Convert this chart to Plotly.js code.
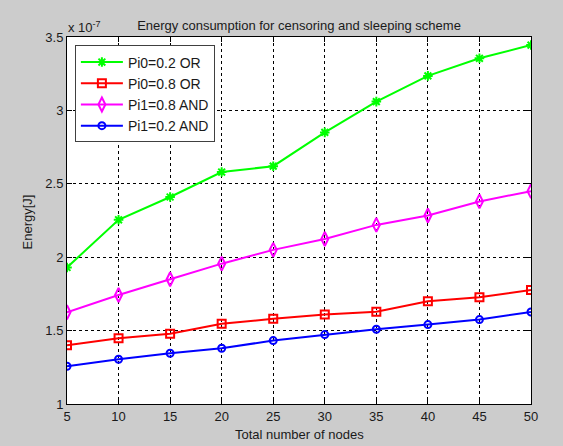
<!DOCTYPE html>
<html>
<head>
<meta charset="utf-8">
<script src="https://cdn.plot.ly/plotly-3.0.1.min.js"></script>
<style>html,body{margin:0;padding:0;background:#cccccc;}#chart{width:563px;height:446px;}</style>
</head>
<body>
<div id="chart"></div>
<script>
// Number of nodes
const nodes = [5, 10, 15, 20, 25, 30, 35, 40, 45, 50];
// Energy values in units of 1e-7 J
const pi0_02_or  = [1.93, 2.255, 2.41, 2.58, 2.62, 2.85, 3.06, 3.235, 3.355, 3.445];
const pi0_08_or  = [1.40, 1.448, 1.478, 1.546, 1.58, 1.609, 1.629, 1.70, 1.727, 1.777];
const pi1_08_and = [1.625, 1.743, 1.85, 1.956, 2.05, 2.124, 2.22, 2.284, 2.38, 2.45];
const pi1_02_and = [1.257, 1.305, 1.346, 1.38, 1.432, 1.473, 1.509, 1.541, 1.575, 1.627];
const seriesNames = ['Pi0=0.2 OR', 'Pi0=0.8 OR', 'Pi1=0.8 AND', 'Pi1=0.2 AND'];
const xTicks = [5, 10, 15, 20, 25, 30, 35, 40, 45, 50];
const yTicks = [1, 1.5, 2, 2.5, 3, 3.5];
const yTickText = ['1', '1.5', '2', '2.5', '3', '3.5'];

const FONT = 'Liberation Sans, Arial, Helvetica, sans-serif';
const TXT = '#1a1a1a';

function tr(y, name, color, symbol, size) {
  return {
    x: nodes, y: y, name: name, type: 'scatter', mode: 'lines+markers',
    line: {color: color, width: 2},
    marker: {symbol: symbol, size: size, color: color, line: {color: color, width: 2}}
  };
}

const data = [
  tr(pi0_02_or, seriesNames[0], '#00ff00', 'asterisk-open', 8),
  tr(pi0_08_or, seriesNames[1], '#ff0000', 'square-open', 8),
  tr(pi1_08_and, seriesNames[2], '#ff00ff', 'diamond-tall-open', 10),
  tr(pi1_02_and, seriesNames[3], '#0000ff', 'circle-open', 7)
];

const axisCommon = {
  showline: true, linecolor: '#000', linewidth: 1, mirror: 'ticks',
  ticks: 'inside', ticklen: 5, tickcolor: '#000', tickwidth: 1,
  showgrid: true, gridcolor: '#000', gridwidth: 1, griddash: '3px,3px',
  zeroline: false, tickfont: {family: FONT, size: 13, color: TXT}, fixedrange: true
};

const layout = {
  width: 563, height: 446,
  margin: {l: 67, r: 32, t: 37, b: 42},
  paper_bgcolor: '#cccccc', plot_bgcolor: '#ffffff',
  font: {family: FONT, size: 13, color: TXT},
  title: {text: 'Energy consumption for censoring and sleeping scheme',
          font: {family: FONT, size: 13, color: TXT},
          xref: 'paper', x: 0.5, xanchor: 'center', yref: 'container', y: 1 - 25/446, yanchor: 'middle'},
  xaxis: Object.assign({}, axisCommon, {range: [5, 50], tickvals: xTicks, ticktext: xTicks.map(String)}),
  yaxis: Object.assign({}, axisCommon, {range: [1, 3.5], tickvals: yTicks, ticktext: yTickText}),
  showlegend: true,
  legend: {x: 0.017, y: 0.977, xanchor: 'left', yanchor: 'top', bgcolor: '#ffffff',
           bordercolor: '#404040', borderwidth: 1, itemwidth: 42,
           font: {family: FONT, size: 14, color: TXT}, tracegroupgap: 0},
  annotations: [
    {text: 'x 10<sup>-7</sup>', xref: 'paper', yref: 'paper', x: -0.002, y: 1.027,
     xanchor: 'left', yanchor: 'middle', showarrow: false, font: {family: FONT, size: 13, color: TXT}},
    {text: 'Total number of nodes', xref: 'paper', yref: 'paper', x: 0.5, y: -0.082,
     xanchor: 'center', yanchor: 'middle', showarrow: false, font: {family: FONT, size: 13, color: TXT}},
    {text: 'Energy[J]', xref: 'paper', yref: 'paper', x: -0.086, y: 0.495, textangle: -90,
     xanchor: 'center', yanchor: 'middle', showarrow: false, font: {family: FONT, size: 13, color: TXT}}
  ]
};

Plotly.newPlot('chart', data, layout, {displayModeBar: false, staticPlot: true});
</script>
</body>
</html>
